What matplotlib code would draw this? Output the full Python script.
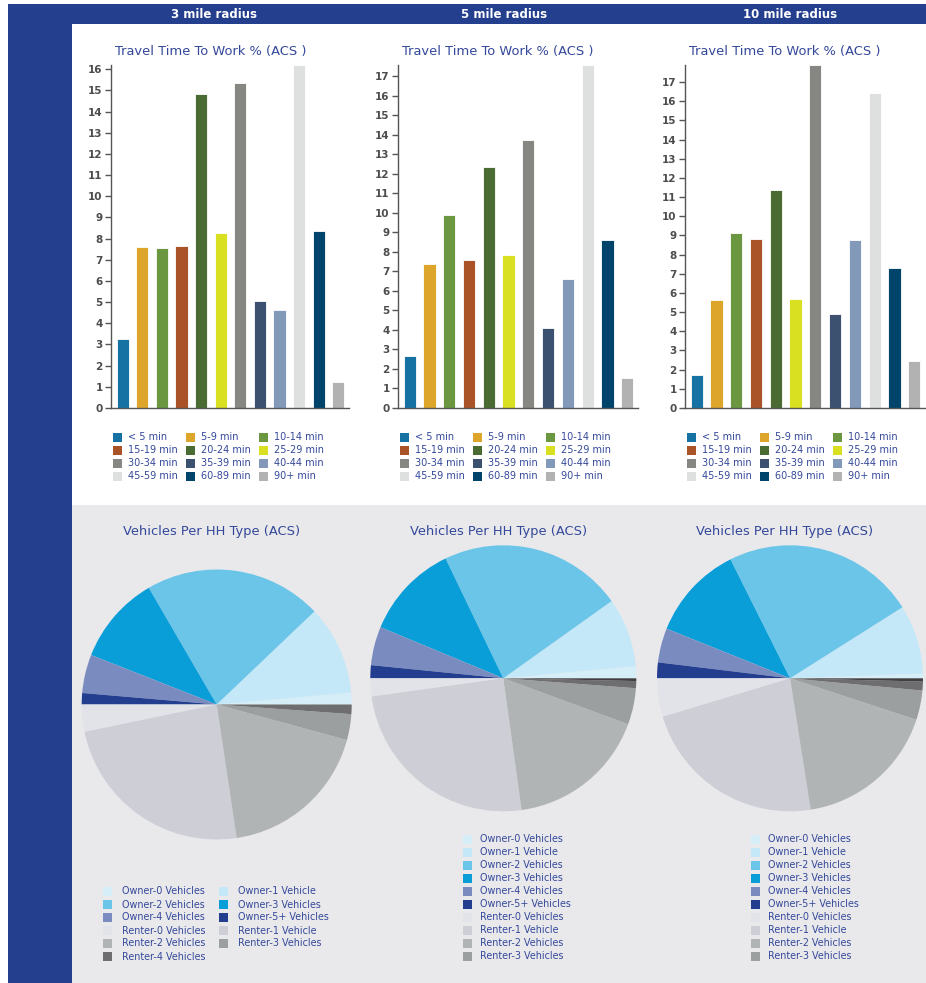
import matplotlib
matplotlib.use("Agg")
import matplotlib.pyplot as plt
from matplotlib.patches import Rectangle

W, H = 926, 983

# ---------------- data ----------------
radius_labels = ["3 mile radius", "5 mile radius", "10 mile radius"]

travel_cats = ["< 5 min", "5-9 min", "10-14 min", "15-19 min", "20-24 min", "25-29 min",
               "30-34 min", "35-39 min", "40-44 min", "45-59 min", "60-89 min", "90+ min"]
travel_3mi = [3.27, 7.62, 7.56, 7.65, 14.81, 8.28, 15.33, 5.05, 4.65, 16.2, 8.36, 1.21]
travel_5mi = [2.68, 7.40, 9.91, 7.57, 12.36, 7.86, 13.74, 4.10, 6.62, 17.57, 8.63, 1.52]
travel_10mi = [1.72, 5.62, 9.14, 8.82, 11.38, 5.69, 17.89, 4.91, 8.75, 16.41, 7.29, 2.44]
travel_colors = ["#1572A3", "#DDA62A", "#6B9740", "#AA5228", "#4A6C33", "#D9DF21",
                 "#868782", "#3C5070", "#8299BA", "#DEE0E0", "#00446C", "#B2B2B2"]

veh_cats = ["Owner-0 Vehicles", "Owner-1 Vehicle", "Owner-2 Vehicles", "Owner-3 Vehicles",
            "Owner-4 Vehicles", "Owner-5+ Vehicles", "Renter-0 Vehicles", "Renter-1 Vehicle",
            "Renter-2 Vehicles", "Renter-3 Vehicles", "Renter-4 Vehicles", "Renter-5+ Vehicles"]
veh_3mi = [1.42, 10.69, 21.28, 10.64, 4.61, 1.36, 3.25, 24.11, 18.39, 3.11, 1.14, 0.0]
veh_5mi = [1.47, 8.39, 22.28, 11.58, 4.69, 1.58, 2.19, 25.00, 17.19, 4.42, 0.86, 0.33]
veh_10mi = [0.58, 8.39, 23.42, 11.53, 4.17, 1.92, 4.67, 22.81, 17.47, 3.58, 1.08, 0.39]
veh_colors = ["#D5EEF8", "#C4E8F7", "#6BC5E8", "#0A9ED8", "#7A8CBF", "#233E8F",
              "#E2E3E8", "#CDCED6", "#B1B4B5", "#9C9FA0", "#6E6E70", "#404042"]

# ---------------- styling ----------------
BLUE = "#243F8E"
TXT_BLUE = "#34489A"
GRAY_BG = "#E9E9EC"
AX_GRAY = "#555555"

fig = plt.figure(figsize=(W / 100, H / 100), dpi=100)
fig.patch.set_facecolor("white")

bg = fig.add_axes([0, 0, 1, 1])
bg.set_xlim(0, W)
bg.set_ylim(H, 0)
bg.axis("off")
bg.set_zorder(-10)

# panels
bg.add_patch(Rectangle((8, 4), W - 8, 20, color=BLUE, lw=0))
bg.add_patch(Rectangle((8, 4), 64, H - 4, color=BLUE, lw=0))
bg.add_patch(Rectangle((72, 24), W - 72, 481, color="white", lw=0))
bg.add_patch(Rectangle((72, 505), W - 72, H - 505, color=GRAY_BG, lw=0))

col_centers = [214, 504, 790]
for cx, lab in zip(col_centers, radius_labels):
    bg.text(cx, 14, lab, color="white", fontsize=8.5, fontweight="bold",
            ha="center", va="center", family=["Liberation Sans Narrow", "DejaVu Sans"])


def px_axes(x0, y0, x1, y1):
    return fig.add_axes([x0 / W, 1 - y1 / H, (x1 - x0) / W, (y1 - y0) / H])


# ---------------- bar charts ----------------
bar_boxes = [(111, 65, 349, 408), (398, 65, 638, 408), (685, 65, 925, 408)]
bar_data = [travel_3mi, travel_5mi, travel_10mi]
bar_titles_x = [211, 498, 785]
legend_x0 = [117, 404, 691]

for box, vals, tx, lx in zip(bar_boxes, bar_data, bar_titles_x, legend_x0):
    ax = px_axes(*box)
    ax.set_facecolor("none")
    xs = list(range(len(travel_cats)))
    ax.bar(xs, vals, width=0.62, color=travel_colors, edgecolor="white", linewidth=0.6)
    ax.set_xlim(-0.6, len(xs) - 0.45)
    ax.set_ylim(0, max(vals))
    top = int(max(vals))
    ax.set_yticks(range(0, top + 1))
    ax.set_xticks([])
    for s in ["top", "right"]:
        ax.spines[s].set_visible(False)
    for s in ["left", "bottom"]:
        ax.spines[s].set_color(AX_GRAY)
        ax.spines[s].set_linewidth(1.0)
    ax.tick_params(axis="y", length=4, width=1, color=AX_GRAY, labelcolor="#4D4D4D",
                   labelsize=7.5, pad=2)
    for t in ax.get_yticklabels():
        t.set_fontweight("bold")
    bg.text(tx, 52, "Travel Time To Work % (ACS )", color=TXT_BLUE, fontsize=9.4,
            ha="center", va="center")
    # legend (3 columns, row-major)
    for i, (cat, col) in enumerate(zip(travel_cats, travel_colors)):
        r, c = divmod(i, 3)
        x = lx + c * 73
        y = 437 + r * 13
        bg.add_patch(Rectangle((x - 4.5, y - 4.5), 9, 9, color=col, lw=0))
        bg.text(x + 11, y, cat, color=TXT_BLUE, fontsize=7.0, va="center", ha="left")

# ---------------- pie charts ----------------
pie_specs = [(216.7, 704.5, 135), (503.3, 678.3, 133), (790, 678.3, 133)]
pie_data = [veh_3mi, veh_5mi, veh_10mi]
pie_title_x = [212, 499, 785]

for (cx, cy, r), vals, tx in zip(pie_specs, pie_data, pie_title_x):
    ax = px_axes(cx - r, cy - r, cx + r, cy + r)
    ax.set_facecolor("none")
    ax.pie(vals, colors=veh_colors, startangle=0, counterclock=True, radius=1,
           wedgeprops=dict(linewidth=0))
    ax.set_xlim(-1, 1)
    ax.set_ylim(-1, 1)
    ax.set_aspect("equal")
    ax.axis("off")
    bg.text(tx, 532, "Vehicles Per HH Type (ACS)", color=TXT_BLUE, fontsize=9.4,
            ha="center", va="center")

# pie legend 1: two columns, row-major, 11 entries
for i in range(11):
    r, c = divmod(i, 2)
    x = 107 + c * 116
    y = 891.5 + r * 13
    bg.add_patch(Rectangle((x - 4.5, y - 4.5), 9, 9, color=veh_colors[i], lw=0))
    bg.text(x + 15, y, veh_cats[i], color=TXT_BLUE, fontsize=6.9, va="center", ha="left")

# pie legends 2 and 3: single column, first 10 entries
for lx in [467, 755]:
    for i in range(10):
        y = 839 + i * 13
        bg.add_patch(Rectangle((lx - 4.5, y - 4.5), 9, 9, color=veh_colors[i], lw=0))
        bg.text(lx + 13, y, veh_cats[i], color=TXT_BLUE, fontsize=6.9, va="center", ha="left")

fig.savefig("out.png", dpi=100, facecolor=fig.get_facecolor())
